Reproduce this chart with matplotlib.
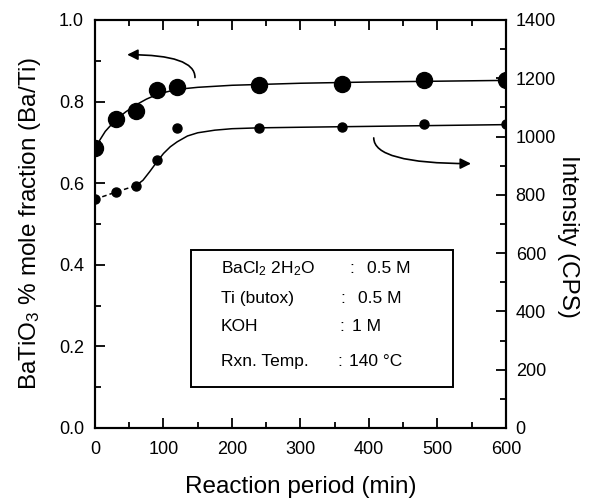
import matplotlib
matplotlib.use("Agg")
import matplotlib.pyplot as plt
from matplotlib.ticker import MultipleLocator

plt.rcParams['font.family'] = ['Liberation Sans', 'DejaVu Sans']
plt.rcParams['mathtext.fontset'] = 'custom'
plt.rcParams['mathtext.rm'] = 'Liberation Sans'
plt.rcParams['mathtext.it'] = 'Liberation Sans:italic'

# measured points
time_min = [0, 30, 60, 90, 120, 240, 360, 480, 600]
mole_frac = [0.687, 0.757, 0.777, 0.828, 0.835, 0.84, 0.842, 0.852, 0.852]
intensity = [785, 809, 832, 921, 1030, 1030, 1033, 1043, 1043]

# guide-to-the-eye curves
fit_mole_t = [0, 15, 30, 45, 60, 75, 90, 105, 120, 150, 200, 300, 400, 500, 600]
fit_mole_v = [0.687, 0.727, 0.755, 0.775, 0.792, 0.806, 0.817, 0.824, 0.830, 0.835, 0.840,
              0.845, 0.848, 0.850, 0.852]
dash_int_t = [0, 30, 60]
dash_int_v = [785, 809, 832]
fit_int_t = [60, 70, 80, 90, 100, 110, 120, 135, 150, 175, 200, 240, 300, 400, 500, 600]
fit_int_v = [832, 850, 880, 912, 942, 965, 982, 1002, 1013, 1022, 1027, 1030, 1032, 1035, 1038, 1041]

# conditions table
cond_names = ['BaCl$_2$ 2H$_2$O', 'Ti (butox)', 'KOH', 'Rxn. Temp.']
cond_values = ['0.5 M', '0.5 M', '1 M', '140 °C']

fig = plt.figure(figsize=(5.99, 5.0), dpi=100)
ax = fig.add_axes([0.1586, 0.144, 0.686, 0.816])
ax2 = ax.twinx()

ax.plot(fit_mole_t, fit_mole_v, color='black', lw=1.1)
ax.plot(time_min, mole_frac, 'o', color='black', ms=11.5)

ax2.plot(dash_int_t, dash_int_v, color='black', lw=1.1, ls=(0, (3, 2)))
ax2.plot(fit_int_t, fit_int_v, color='black', lw=1.1)
ax2.plot(time_min, intensity, 'o', color='black', ms=6.5)

ax.set_xlim(0, 600)
ax.set_ylim(0, 1.0)
ax2.set_ylim(0, 1400)

ax.xaxis.set_major_locator(MultipleLocator(100))
ax.xaxis.set_minor_locator(MultipleLocator(50))
ax.yaxis.set_major_locator(MultipleLocator(0.2))
ax.yaxis.set_minor_locator(MultipleLocator(0.1))
ax2.yaxis.set_major_locator(MultipleLocator(200))
ax2.yaxis.set_minor_locator(MultipleLocator(100))

ax.tick_params(which='both', direction='in', top=True, labelsize=13, width=1.3)
ax.tick_params(axis='x', pad=9)
ax.tick_params(axis='y', pad=8)
ax.tick_params(which='major', length=7)
ax.tick_params(which='minor', length=4)
ax2.tick_params(which='both', direction='in', labelsize=13, width=1.3, pad=7)
ax2.tick_params(which='major', length=7)
ax2.tick_params(which='minor', length=4)
ax.yaxis.set_major_formatter(plt.FormatStrFormatter('%.1f'))

for a in (ax, ax2):
    for s in a.spines.values():
        s.set_linewidth(1.5)

ax.set_xlabel('Reaction period (min)', fontsize=17.5, labelpad=13)
ax.set_ylabel('BaTiO$_3$ % mole fraction (Ba/Ti)', fontsize=17.5, labelpad=11)
ax2.set_ylabel('Intensity (CPS)', fontsize=17.5, rotation=270, va='center')
ax2.yaxis.set_label_coords(1.15, 0.47)

# arrows pointing to the axis each series belongs to
ax.annotate('', xy=(47, 0.915), xytext=(146, 0.859),
            arrowprops=dict(arrowstyle='-|>', color='black', lw=1.2,
                            connectionstyle='angle3,angleA=90,angleB=0',
                            mutation_scale=16, shrinkA=0, shrinkB=0))
ax.annotate('', xy=(549, 0.648), xytext=(407, 0.711),
            arrowprops=dict(arrowstyle='-|>', color='black', lw=1.2,
                            connectionstyle='angle3,angleA=90,angleB=0',
                            mutation_scale=16, shrinkA=0, shrinkB=0))

# conditions box
box = plt.Rectangle((140, 0.1), 383, 0.337, fill=False, lw=1.4, color='black')
ax.add_patch(box)
row_y = [0.391, 0.318, 0.248, 0.163]
colon_x = [372, 359, 357, 354]
value_x = [397, 384, 375, 371]
for name, val, yy, cx, vx in zip(cond_names, cond_values, row_y, colon_x, value_x):
    ax.text(184, yy, name, fontsize=12.5, va='center', ha='left')
    ax.text(cx, yy, ':', fontsize=12.5, va='center', ha='left')
    ax.text(vx, yy, val, fontsize=12.5, va='center', ha='left')

fig.savefig('out.png', dpi=100)
